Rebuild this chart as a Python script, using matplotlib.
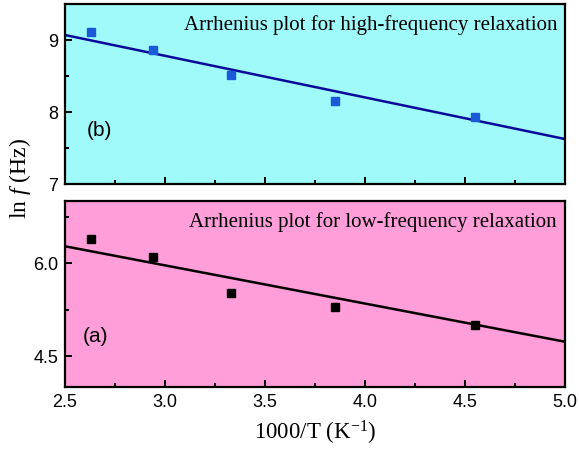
import matplotlib
matplotlib.use("Agg")
import matplotlib.pyplot as plt
import numpy as np
from matplotlib.ticker import MultipleLocator, FormatStrFormatter
from matplotlib.font_manager import FontProperties

plt.rcParams['mathtext.fontset'] = 'custom'
plt.rcParams['mathtext.rm'] = 'Liberation Serif'
plt.rcParams['mathtext.it'] = 'Liberation Serif:italic'

# 1000/T values (K^-1)
inv_T = [2.63, 2.94, 3.33, 3.85, 4.55]

# ln f for the high-frequency relaxation (panel b)
lnf_high = [9.11, 8.86, 8.51, 8.15, 7.93]
# ln f for the low-frequency relaxation (panel a)
lnf_low = [6.39, 6.10, 5.51, 5.29, 5.00]

# Linear Arrhenius fits: ln f = intercept + slope * (1000/T)
fit_high = {"slope": -0.578, "intercept": 10.515}
fit_low = {"slope": -0.616, "intercept": 7.81}

x_range = [2.5, 5.0]

tick_font = dict(family='Liberation Sans', size=13)
serif = 'Liberation Serif'

fig = plt.figure(figsize=(5.79, 4.5), dpi=100)
ax_b = fig.add_axes([0.1123, 0.591, 0.8636, 0.400])
ax_a = fig.add_axes([0.1123, 0.140, 0.8636, 0.4133])


def style(ax, bg, ylim, ymaj, ymin, show_x, yfmt=None):
    ax.set_facecolor(bg)
    ax.set_xlim(*x_range)
    ax.set_ylim(*ylim)
    ax.xaxis.set_major_locator(MultipleLocator(0.5))
    ax.xaxis.set_minor_locator(MultipleLocator(0.25))
    ax.yaxis.set_major_locator(MultipleLocator(ymaj))
    ax.yaxis.set_minor_locator(MultipleLocator(ymin))
    if yfmt:
        ax.yaxis.set_major_formatter(FormatStrFormatter(yfmt))
    for s in ax.spines.values():
        s.set_linewidth(1.6)
    ax.tick_params(which='both', direction='in', top=False, right=False, width=1.4)
    ax.tick_params(which='major', length=5, pad=5)
    ax.tick_params(which='minor', length=3)
    if not show_x:
        ax.tick_params(axis='x', labelbottom=False)
    for lab in ax.get_xticklabels() + ax.get_yticklabels():
        lab.set_fontproperties(FontProperties(**tick_font))


style(ax_b, '#a0fafa', (7.0, 9.5), 1.0, 0.5, False)
style(ax_a, '#ff9ed8', (4.0, 7.0), 1.5, 0.75, True, '%.1f')

xs = np.array(x_range)
ax_b.plot(xs, fit_high["intercept"] + fit_high["slope"] * xs, color='#0a0a9a', lw=1.8, zorder=2)
ax_b.plot(inv_T, lnf_high, 's', color='#1a5ad8', ms=6, zorder=3)

ax_a.plot(xs, fit_low["intercept"] + fit_low["slope"] * xs, color='black', lw=1.8, zorder=2)
ax_a.plot(inv_T, lnf_low, 's', color='black', ms=6, zorder=3)

ax_b.text(0.984, 0.883, 'Arrhenius plot for high-frequency relaxation', transform=ax_b.transAxes,
          ha='right', va='center', family=serif, fontsize=15)
ax_a.text(0.984, 0.889, 'Arrhenius plot for low-frequency relaxation', transform=ax_a.transAxes,
          ha='right', va='center', family=serif, fontsize=15)

ax_b.text(0.044, 0.30, '(b)', transform=ax_b.transAxes, ha='left', va='center',
          family='Liberation Sans', fontsize=15)
ax_a.text(0.036, 0.273, '(a)', transform=ax_a.transAxes, ha='left', va='center',
          family='Liberation Sans', fontsize=15)

ax_a.set_xlabel('1000/T (K$^{\\mathrm{-1}}$)', family=serif, fontsize=16.5, labelpad=6)
fig.text(20 / 579, 1 - 178 / 450, 'ln $f$ (Hz)', rotation=90, ha='center', va='center',
         family=serif, fontsize=17)

fig.savefig('out.png', dpi=100)
